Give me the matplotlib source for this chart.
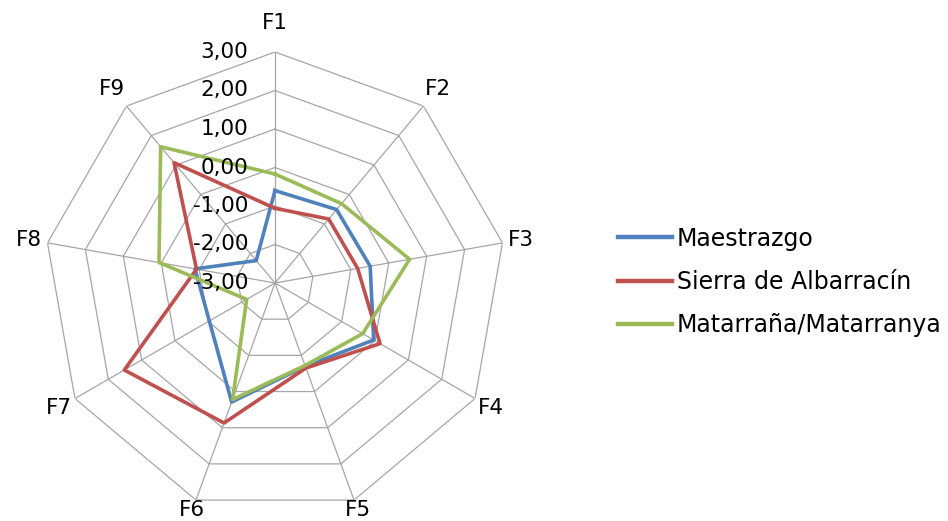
import matplotlib.pyplot as plt
import numpy as np
from matplotlib.lines import Line2D

categories = ['F1', 'F2', 'F3', 'F4', 'F5', 'F6', 'F7', 'F8', 'F9']
ticks = [-3, -2, -1, 0, 1, 2, 3]
tick_labels = ['-3,00', '-2,00', '-1,00', '0,00', '1,00', '2,00', '3,00']

maestrazgo = [-0.60, -0.51, -0.49, -0.04, -0.70, 0.29, -1.03, -0.89, -2.24]
sierra = [-1.06, -0.83, -0.82, 0.15, -0.65, 0.87, 1.52, -0.93, 1.08]
matarrana = [-0.17, -0.31, 0.55, -0.37, -0.72, 0.22, -2.15, 0.06, 1.62]

series = [
    ('Maestrazgo', maestrazgo, '#4F81BD'),
    ('Sierra de Albarracín', sierra, '#C0504D'),
    ('Matarraña/Matarranya', matarrana, '#9BBB59'),
]

W, H = 948, 521
cx, cy, R = 275, 283, 231

fig = plt.figure(figsize=(W / 100, H / 100), dpi=100)
ax = fig.add_axes([(cx - R) / W, (H - cy - R) / H, 2 * R / W, 2 * R / H],
                  projection='polar')
ax.set_theta_zero_location('N')
ax.set_theta_direction(-1)
ax.set_ylim(-3, 3)
ax.grid(False)
ax.spines['polar'].set_visible(False)
ax.set_xticks([])
ax.set_yticks([])
ax.patch.set_alpha(0)

n = len(categories)
angles = np.arange(n) * 2 * np.pi / n
closed = np.append(angles, angles[0])
grid_col = '#a6a6a6'

# polygon rings and spokes
for t in ticks[1:]:
    ax.plot(closed, [t] * (n + 1), color=grid_col, lw=0.9, zorder=1)
for a in angles:
    ax.plot([a, a], [-3, 3], color=grid_col, lw=0.9, zorder=1)

for name, vals, col in series:
    ax.plot(closed, vals + vals[:1], color=col, lw=2.6, label=name, zorder=3,
            clip_on=False)

fs = 15.5
for t, lab in zip(ticks, tick_labels):
    ax.annotate(lab, xy=(0, t), xytext=(-27, 0), textcoords='offset pixels',
                ha='right', va='center', fontsize=fs, color='#000000',
                zorder=4, annotation_clip=False)

# category labels: a bit further out at the top, closer at the bottom
for a, c in zip(angles, categories):
    cs = np.cos(a)
    r_px = 250 + 10 * max(cs, 0) ** 4 - 11 * max(-cs, 0) ** 4
    ax.text(a, r_px / R * 6 - 3, c, ha='center', va='center', fontsize=fs,
            clip_on=False)

handles = [Line2D([], [], color=col, lw=3.2) for _, _, col in series]
fig.legend(handles, [s[0] for s in series], loc='center left',
           bbox_to_anchor=(618 / W, (H - 282) / H), frameon=False,
           fontsize=17, handlelength=2.3, handletextpad=0.2,
           labelspacing=0.82, borderpad=0, borderaxespad=0)

fig.savefig('out.png', dpi=100, facecolor='white')
